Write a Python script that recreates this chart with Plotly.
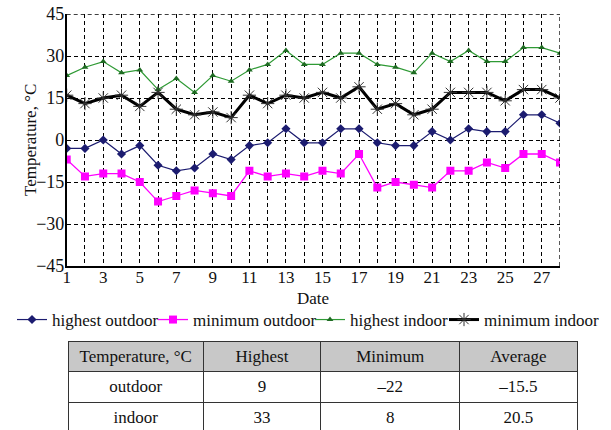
import plotly.graph_objects as go

days = list(range(1, 29))
day_labels = [str(d) if d % 2 == 1 else "" for d in days]

highest_outdoor = [-3, -3, 0, -5, -2, -9, -11, -10, -5, -7, -2, -1, 4, -1, -1, 4, 4, -1, -2, -2, 3, 0, 4, 3, 3, 9, 9, 6]
minimum_outdoor = [-7, -13, -12, -12, -15, -22, -20, -18, -19, -20, -11, -13, -12, -13, -11, -12, -5, -17, -15, -16, -17, -11, -11, -8, -10, -5, -5, -8]
highest_indoor = [23, 26, 28, 24, 25, 18, 22, 17, 23, 21, 25, 27, 32, 27, 27, 31, 31, 27, 26, 24, 31, 28, 32, 28, 28, 33, 33, 31]
minimum_indoor = [16, 13, 15, 16, 12, 17, 11, 9, 10, 8, 16, 13, 16, 15, 17, 15, 19, 11, 13, 9, 11, 17, 17, 17, 14, 18, 18, 15]

y_ticks = [-45, -30, -15, 0, 15, 30, 45]

table_header = ["Temperature, °C", "Highest", "Minimum", "Average"]
table_rows = ["outdoor", "indoor"]
table_highest = ["9", "33"]
table_minimum = ["\u201322", "8"]
table_average = ["\u201315.5", "20.5"]

# The page body margin is removed (see post_script) so the figure fills the window.
W, H = 611, 430


def px_x(X):
    return X / W


def px_y(Y):
    return 1 - Y / H


FONT = "Liberation Serif, Times New Roman, Times, serif"
GRID_DASH = "4px,3px"
LEGEND_Y = px_y(320)
# left edge (window px) of each legend box; its text starts 40 px further right
legend_left_px = [12, 153, 310, 444]

fig = go.Figure()

fig.add_trace(go.Scatter(x=days, y=highest_outdoor, name="highest outdoor", mode="lines+markers",
                         legend="legend",
                         line=dict(color="#1c1c70", width=1.2),
                         marker=dict(symbol="diamond", size=7, color="#1c1c70")))
fig.add_trace(go.Scatter(x=days, y=minimum_outdoor, name="minimum outdoor", mode="lines+markers",
                         legend="legend2",
                         line=dict(color="#ff00ff", width=1.3),
                         marker=dict(symbol="square", size=8, color="#ff00ff")))
fig.add_trace(go.Scatter(x=days, y=highest_indoor, name="highest indoor", mode="lines+markers",
                         legend="legend3",
                         line=dict(color="#2f9a35", width=1.2),
                         marker=dict(symbol="triangle-up", size=6, color="#1e6b22")))
fig.add_trace(go.Scatter(x=days, y=minimum_indoor, name="minimum indoor", mode="lines+markers",
                         legend="legend4",
                         line=dict(color="#000000", width=3),
                         marker=dict(symbol="asterisk-open", size=11, color="#333333",
                                     line=dict(width=1, color="#333333"))))

fig.add_trace(go.Table(
    domain=dict(x=[px_x(68.3), px_x(578.3)], y=[0, px_y(341)]),
    columnwidth=[135, 118, 139, 118],
    header=dict(values=table_header, fill_color="#c8c8c8",
                line=dict(color="#333333", width=1),
                font=dict(family=FONT, size=17, color="#111111"),
                align="center", height=30),
    cells=dict(values=[table_rows, table_highest, table_minimum, table_average],
               fill_color="white", line=dict(color="#333333", width=1),
               font=dict(family=FONT, size=17, color="#111111"),
               align="center", height=31),
))

# dashed frame on top and right (grid lines at the range limits)
fig.add_shape(type="line", xref="x", yref="y", x0=1, x1=28, y0=45, y1=45,
              line=dict(color="#000000", width=1.3, dash=GRID_DASH))
fig.add_shape(type="line", xref="x", yref="y", x0=28, x1=28, y0=-45, y1=45,
              line=dict(color="#000000", width=1.3, dash=GRID_DASH))

# axis titles
fig.add_annotation(text="Date", xref="paper", yref="paper",
                   x=px_x((66.7 + 560) / 2), y=px_y(298), xanchor="center", yanchor="middle",
                   showarrow=False, font=dict(family=FONT, size=17, color="#111111"))
fig.add_annotation(text="Temperature, °C", xref="paper", yref="paper", textangle=-90,
                   x=px_x(30), y=px_y(140), xanchor="center", yanchor="middle",
                   showarrow=False, font=dict(family=FONT, size=17, color="#111111"))

legend_common = dict(orientation="h", yanchor="middle", xanchor="left", y=LEGEND_Y,
                     font=dict(family=FONT, size=17, color="#111111"),
                     itemwidth=30, bgcolor="rgba(0,0,0,0)", borderwidth=0)

fig.update_layout(
    width=W, height=H,
    margin=dict(l=0, r=0, t=0, b=0, autoexpand=False),
    paper_bgcolor="white", plot_bgcolor="white",
    font=dict(family=FONT, size=17, color="#111111"),
    showlegend=True,
    legend=dict(x=px_x(legend_left_px[0]), **legend_common),
    legend2=dict(x=px_x(legend_left_px[1]), **legend_common),
    legend3=dict(x=px_x(legend_left_px[2]), **legend_common),
    legend4=dict(x=px_x(legend_left_px[3]), **legend_common),
    xaxis=dict(domain=[px_x(66.7), px_x(560)], range=[1, 28], tickmode="array",
               tickvals=days, ticktext=day_labels, ticks="", automargin=False,
               ticklabelstandoff=-5,
               showgrid=True, gridcolor="#000000", griddash=GRID_DASH, gridwidth=1.3,
               showline=True, linecolor="#000000", linewidth=1.5, zeroline=False,
               tickfont=dict(family=FONT, size=17)),
    yaxis=dict(domain=[px_y(266), px_y(14)], range=[-45, 45], tickmode="array",
               tickvals=y_ticks, ticks="", automargin=False,
               ticklabelstandoff=-3,
               showgrid=True, gridcolor="#000000", griddash=GRID_DASH, gridwidth=1.3,
               showline=True, linecolor="#000000", linewidth=1.5, zeroline=False,
               tickfont=dict(family=FONT, size=18)),
)

fig.write_html("out.html",
               config={"displayModeBar": False},
               post_script="document.body.style.margin='0';document.body.style.overflow='hidden';")
